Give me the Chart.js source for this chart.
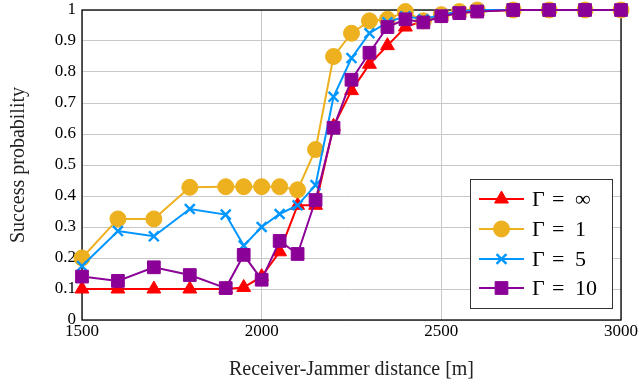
<!DOCTYPE html>
<html>
<head>
<meta charset="utf-8">
<script src="https://cdn.jsdelivr.net/npm/chart.js@4"></script>
<style>
  html, body { margin: 0; padding: 0; background: #fff; }
  #wrap { width: 639px; height: 388px; }
</style>
</head>
<body>
<div id="wrap"><canvas id="grafico"></canvas></div>
<script>
// distances [m]
const distancias = [1500, 1600, 1700, 1800, 1900, 1950, 2000, 2050, 2100, 2150, 2200, 2250,
  2300, 2350, 2400, 2450, 2500, 2550, 2600, 2700, 2800, 2900, 3000];

const gInf = [0.10, 0.10, 0.10, 0.10, 0.10, 0.105, 0.14, 0.22, 0.37, 0.37, 0.625, 0.74,
  0.825, 0.885, 0.945, 0.965, 0.98, 0.99, 0.995, 1, 1, 1, 1];
const g1 = [0.20, 0.326, 0.326, 0.428, 0.43, 0.43, 0.43, 0.43, 0.42, 0.55, 0.85, 0.925,
  0.965, 0.97, 0.995, 0.965, 0.985, 0.995, 1, 1, 1, 1, 1];
const g5 = [0.174, 0.287, 0.27, 0.358, 0.34, 0.24, 0.30, 0.342, 0.37, 0.435, 0.72, 0.845,
  0.925, 0.96, 0.98, 0.97, 0.985, 0.995, 1, 1, 1, 1, 1];
const g10 = [0.14, 0.126, 0.17, 0.145, 0.103, 0.21, 0.13, 0.255, 0.213, 0.387, 0.62, 0.775,
  0.862, 0.945, 0.97, 0.96, 0.98, 0.99, 0.995, 1, 1, 1, 1];

const rotulos = ["∞", "1", "5", "10"];
const cores = ["#ff0000", "#edb120", "#0096ff", "#8b0096"];
const estilos = ["triangle", "circle", "crossRot", "rect"];
const raios = [8, 8, 7, 9];

const series = [gInf, g1, g5, g10];
const fonte = "'Liberation Serif', 'DejaVu Serif', serif";

const datasets = series.map((s, i) => ({
  label: "Γ = " + rotulos[i],
  data: s.map((v, j) => ({ x: distancias[j], y: v })),
  borderColor: cores[i],
  backgroundColor: cores[i],
  pointBackgroundColor: cores[i],
  pointBorderColor: cores[i],
  pointStyle: estilos[i],
  pointRadius: raios[i],
  pointBorderWidth: i === 2 ? 2.4 : 1,
  borderWidth: 2,
  tension: 0,
  clip: false,
  order: 4 - i,
}));

// frame + legend drawn like the pgfplots original
const moldura = {
  id: "moldura",
  beforeDatasetsDraw(chart) {
    const { ctx, chartArea: a } = chart;
    ctx.save();
    ctx.strokeStyle = "#000";
    ctx.lineWidth = 1.3;
    ctx.strokeRect(a.left, a.top, a.right - a.left, a.bottom - a.top);
    ctx.restore();
  },
  afterDatasetsDraw(chart) {
    const { ctx } = chart;
    ctx.save();
    const bx = 470, by = 179, bw = 142, bh = 129;
    ctx.fillStyle = "#fff";
    ctx.fillRect(bx, by, bw, bh);
    ctx.strokeStyle = "#333";
    ctx.lineWidth = 1;
    ctx.strokeRect(bx + 0.5, by + 0.5, bw, bh);
    const linhasY = [199, 229, 259, 288];
    ctx.font = "22px " + fonte;
    ctx.textBaseline = "middle";
    ctx.textAlign = "left";
    for (let i = 0; i < 4; i++) {
      const y = linhasY[i];
      ctx.strokeStyle = cores[i];
      ctx.lineWidth = 2;
      ctx.beginPath();
      ctx.moveTo(479, y);
      ctx.lineTo(524, y);
      ctx.stroke();
      ctx.fillStyle = cores[i];
      ctx.lineWidth = i === 2 ? 2.4 : 1;
      Chart.helpers.drawPoint(ctx, { pointStyle: estilos[i], radius: raios[i], borderWidth: ctx.lineWidth }, 501.5, y);
      ctx.fillStyle = "#000";
      ctx.fillText("Γ", 532, y + 1);
      ctx.fillText("=", 552, y + 1);
      ctx.fillText(rotulos[i], 575, y + 1);
    }
    ctx.restore();
  }
};

new Chart(document.getElementById("grafico"), {
  type: "line",
  data: { datasets },
  options: {
    responsive: true,
    maintainAspectRatio: false,
    animation: false,
    layout: { autoPadding: false, padding: 0 },
    plugins: {
      legend: { display: false },
      tooltip: { enabled: false },
    },
    scales: {
      x: {
        type: "linear",
        min: 1500,
        max: 3000,
        ticks: {
          stepSize: 500,
          color: "#000",
          padding: 1,
          maxRotation: 0,
          font: { family: fonte, size: 17 },
          callback: (v) => String(v),
        },
        grid: { color: "#c8c8c8", lineWidth: 1, drawTicks: false },
        border: { display: false },
        title: {
          display: true,
          text: "Receiver-Jammer distance [m]",
          color: "#222",
          font: { family: fonte, size: 20 },
          padding: { top: 0, bottom: 6 },
        },
        afterFit(s) { s.height = 68; s.paddingLeft = 0; s.paddingRight = 18; },
      },
      y: {
        min: 0,
        max: 1,
        ticks: {
          stepSize: 0.1,
          color: "#000",
          padding: 6,
          font: { family: fonte, size: 17 },
          callback: (v) => String(Math.round(v * 10) / 10),
        },
        grid: { color: "#c8c8c8", lineWidth: 1, drawTicks: false },
        border: { display: false },
        title: {
          display: true,
          text: "Success probability",
          color: "#222",
          font: { family: fonte, size: 20 },
          padding: { top: 7, bottom: 0 },
        },
        afterFit(s) { s.width = 82; s.paddingTop = 10; s.paddingBottom = 0; },
      },
    },
  },
  plugins: [moldura],
});
</script>
</body>
</html>
